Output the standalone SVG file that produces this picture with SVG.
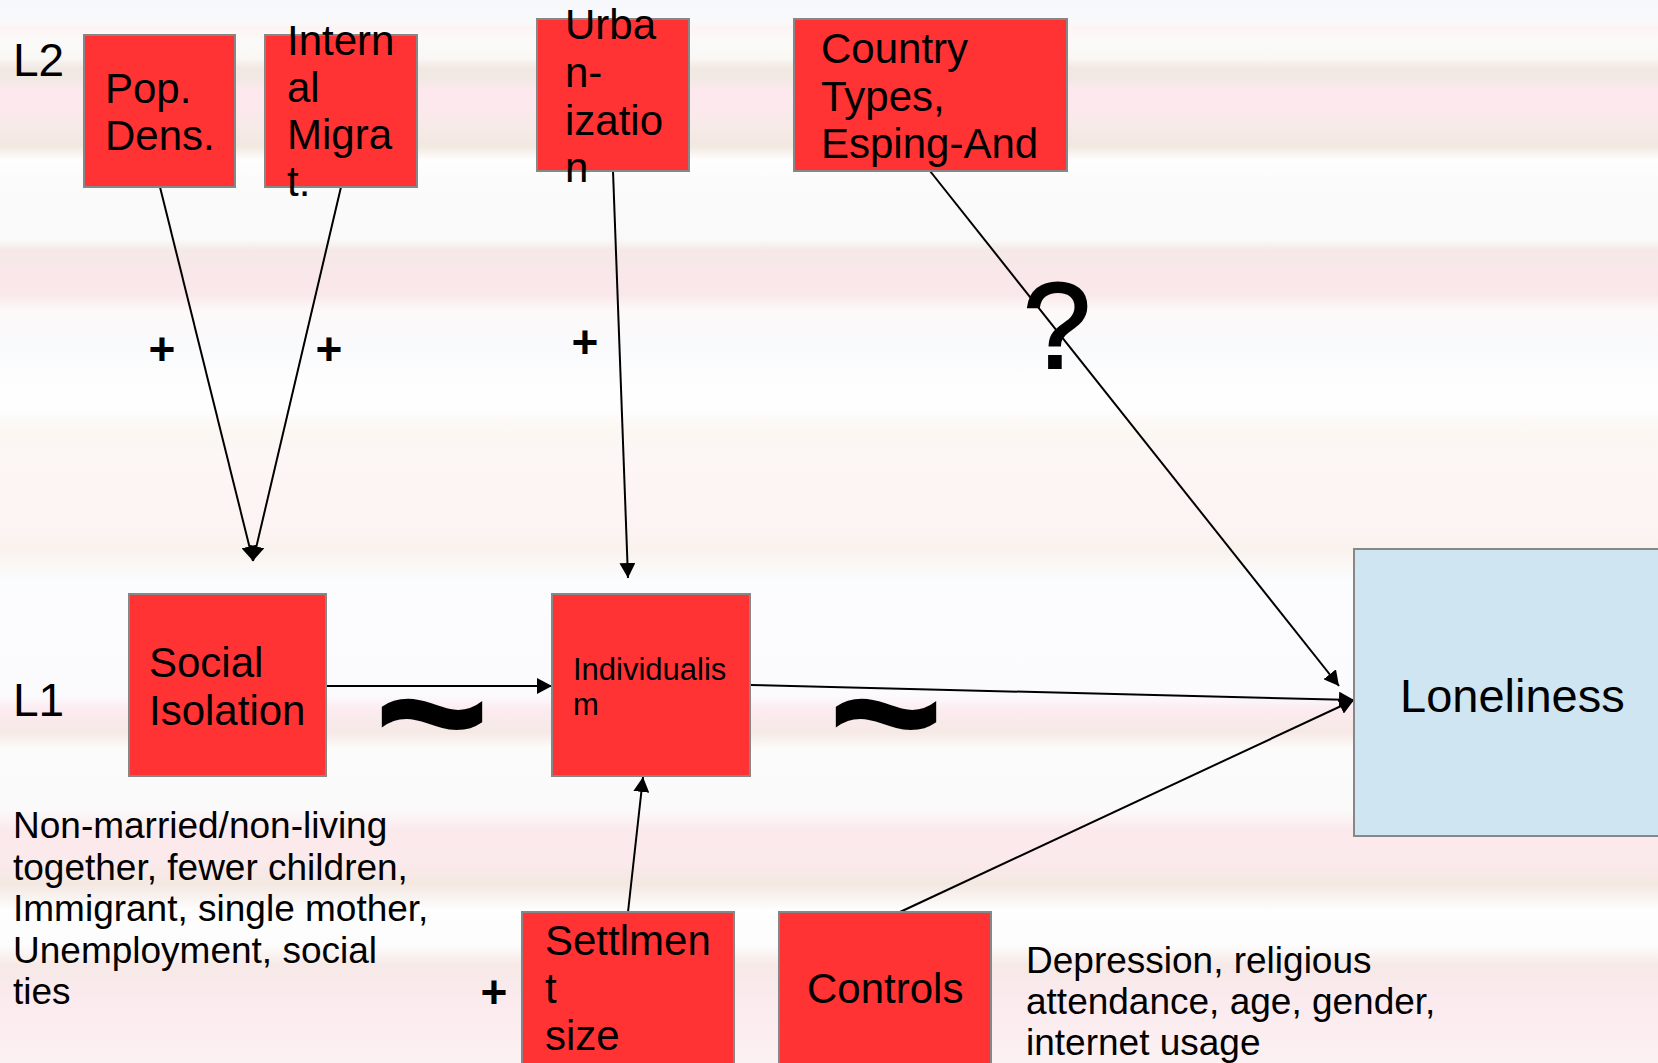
<svg xmlns="http://www.w3.org/2000/svg" width="1658" height="1063" viewBox="0 0 1658 1063">
<defs>
<linearGradient id="bg" gradientUnits="userSpaceOnUse" x1="0" y1="0" x2="0" y2="1063">
<stop offset="0" stop-color="#f7f8fb"/>
<stop offset="0.0188" stop-color="#f8f9fb"/>
<stop offset="0.0263" stop-color="#fdf4f4"/>
<stop offset="0.0376" stop-color="#fbfaf8"/>
<stop offset="0.0546" stop-color="#faf8f5"/>
<stop offset="0.064" stop-color="#f1e8e2"/>
<stop offset="0.0734" stop-color="#f1e9e3"/>
<stop offset="0.0847" stop-color="#fde8ee"/>
<stop offset="0.1016" stop-color="#fce8ed"/>
<stop offset="0.1148" stop-color="#f8eae9"/>
<stop offset="0.1373" stop-color="#f1e8e0"/>
<stop offset="0.1505" stop-color="#fefefe"/>
<stop offset="0.1693" stop-color="#fbfbfb"/>
<stop offset="0.2258" stop-color="#f9f9f9"/>
<stop offset="0.2352" stop-color="#f5e9e6"/>
<stop offset="0.2587" stop-color="#f9e7ea"/>
<stop offset="0.2775" stop-color="#f9e8ea"/>
<stop offset="0.2916" stop-color="#fdf9f8"/>
<stop offset="0.3293" stop-color="#f9fafc"/>
<stop offset="0.3622" stop-color="#fefefe"/>
<stop offset="0.3857" stop-color="#fefefe"/>
<stop offset="0.4045" stop-color="#fbf7f1"/>
<stop offset="0.4327" stop-color="#fcf6f5"/>
<stop offset="0.4986" stop-color="#fcf4f3"/>
<stop offset="0.5155" stop-color="#f9f2ed"/>
<stop offset="0.5456" stop-color="#fbfcfd"/>
<stop offset="0.6538" stop-color="#fbfbfd"/>
<stop offset="0.6679" stop-color="#fcebf0"/>
<stop offset="0.6886" stop-color="#f5e9e5"/>
<stop offset="0.7037" stop-color="#fcfbfa"/>
<stop offset="0.762" stop-color="#fbfafa"/>
<stop offset="0.7808" stop-color="#fbe9ec"/>
<stop offset="0.809" stop-color="#fbeaec"/>
<stop offset="0.8325" stop-color="#f4e8e2"/>
<stop offset="0.8561" stop-color="#fefefe"/>
<stop offset="0.889" stop-color="#fdfcfc"/>
<stop offset="0.9078" stop-color="#f6e9e7"/>
<stop offset="0.9407" stop-color="#fbeaee"/>
<stop offset="1" stop-color="#fbf1f2"/>
</linearGradient>
<marker id="arr" markerUnits="userSpaceOnUse" viewBox="0 0 15 16" refX="15" refY="8" markerWidth="15" markerHeight="16" orient="auto">
<path d="M0,0 L15,8 L0,16 z" fill="#000"/>
</marker>
</defs>
<style>
.box{fill:#ff3334;stroke:#878787;stroke-width:2}
.blue{fill:#cfe5f2;stroke:#878787;stroke-width:2}
text{font-family:"Liberation Sans",Arial,sans-serif;fill:#000}
.bt{font-size:42px}
.lv{font-size:46px}
.note{font-size:37px}
.plus{font-size:46px;font-weight:bold;text-anchor:middle}
.tilde{font-size:198px;font-weight:bold}
.conn line{stroke:#000;stroke-width:2;fill:none;marker-end:url(#arr)}
</style>
<rect x="0" y="0" width="1658" height="1063" fill="url(#bg)"/>

<g id="labels">
<text class="lv" x="13" y="76">L2</text>
<text class="lv" x="13" y="716">L1</text>
<text class="note" x="13" y="838">Non-married/non-living</text>
<text class="note" x="13" y="880">together, fewer children,</text>
<text class="note" x="13" y="921">Immigrant, single mother,</text>
<text class="note" x="13" y="963">Unemployment, social</text>
<text class="note" x="13" y="1004">ties</text>
<text class="note" x="1026" y="973">Depression, religious</text>
<text class="note" x="1026" y="1014">attendance, age, gender,</text>
<text class="note" x="1026" y="1055">internet usage</text>
<text class="plus" x="162" y="365">+</text>
<text class="plus" x="329" y="365">+</text>
<text class="plus" x="585" y="358">+</text>
<text class="plus" x="494" y="1008">+</text>
<text x="1057" y="368" style="font-size:122px;text-anchor:middle;stroke:#000;stroke-width:2">?</text>
<text class="tilde" x="374" y="780">~</text>
<text class="tilde" x="828" y="780">~</text>
</g>

<g id="connectors" class="conn">
<line x1="160" y1="187" x2="253" y2="561"/>
<line x1="341" y1="187" x2="253" y2="561"/>
<line x1="613" y1="171" x2="628" y2="578"/>
<line x1="930" y1="171" x2="1339" y2="686"/>
<line x1="326" y1="686" x2="552" y2="686"/>
<line x1="750" y1="685" x2="1354" y2="700"/>
<line x1="628" y1="912" x2="643" y2="777"/>
<line x1="900" y1="912" x2="1354" y2="700"/>
</g>

<g id="pop-dens">
<rect class="box" x="84" y="35" width="151" height="152"/>
<text class="bt" x="105" y="103">Pop.</text>
<text class="bt" x="105" y="150">Dens.</text>
</g>
<g id="internal-migrat">
<rect class="box" x="265" y="35" width="152" height="152"/>
<text class="bt" x="287" y="55">Intern</text>
<text class="bt" x="287" y="102">al</text>
<text class="bt" x="287" y="149">Migra</text>
<text class="bt" x="287" y="196">t.</text>
</g>
<g id="urbanization">
<rect class="box" x="537" y="19" width="152" height="152"/>
<text class="bt" x="565" y="39">Urba</text>
<text class="bt" x="565" y="87">n-</text>
<text class="bt" x="565" y="135">izatio</text>
<text class="bt" x="565" y="182">n</text>
</g>
<g id="country-types">
<rect class="box" x="794" y="19" width="273" height="152"/>
<text class="bt" x="821" y="63">Country</text>
<text class="bt" x="821" y="111">Types,</text>
<text class="bt" x="821" y="158">Esping-And</text>
</g>
<g id="social-isolation">
<rect class="box" x="129" y="594" width="197" height="182"/>
<text class="bt" x="149" y="677">Social</text>
<text class="bt" x="149" y="725">Isolation</text>
</g>
<g id="individualism">
<rect class="box" x="552" y="594" width="198" height="182"/>
<text x="573" y="680" style="font-size:31px">Individualis</text>
<text x="573" y="715" style="font-size:31px">m</text>
</g>
<g id="loneliness">
<rect class="blue" x="1354" y="549" width="320" height="287"/>
<text x="1400" y="712" style="font-size:47px">Loneliness</text>
</g>
<g id="settlement-size">
<rect class="box" x="522" y="912" width="212" height="170"/>
<text class="bt" x="545" y="955">Settlmen</text>
<text class="bt" x="545" y="1003">t</text>
<text class="bt" x="545" y="1050">size</text>
</g>
<g id="controls">
<rect class="box" x="779" y="912" width="212" height="170"/>
<text class="bt" x="807" y="1003">Controls</text>
</g>
</svg>
